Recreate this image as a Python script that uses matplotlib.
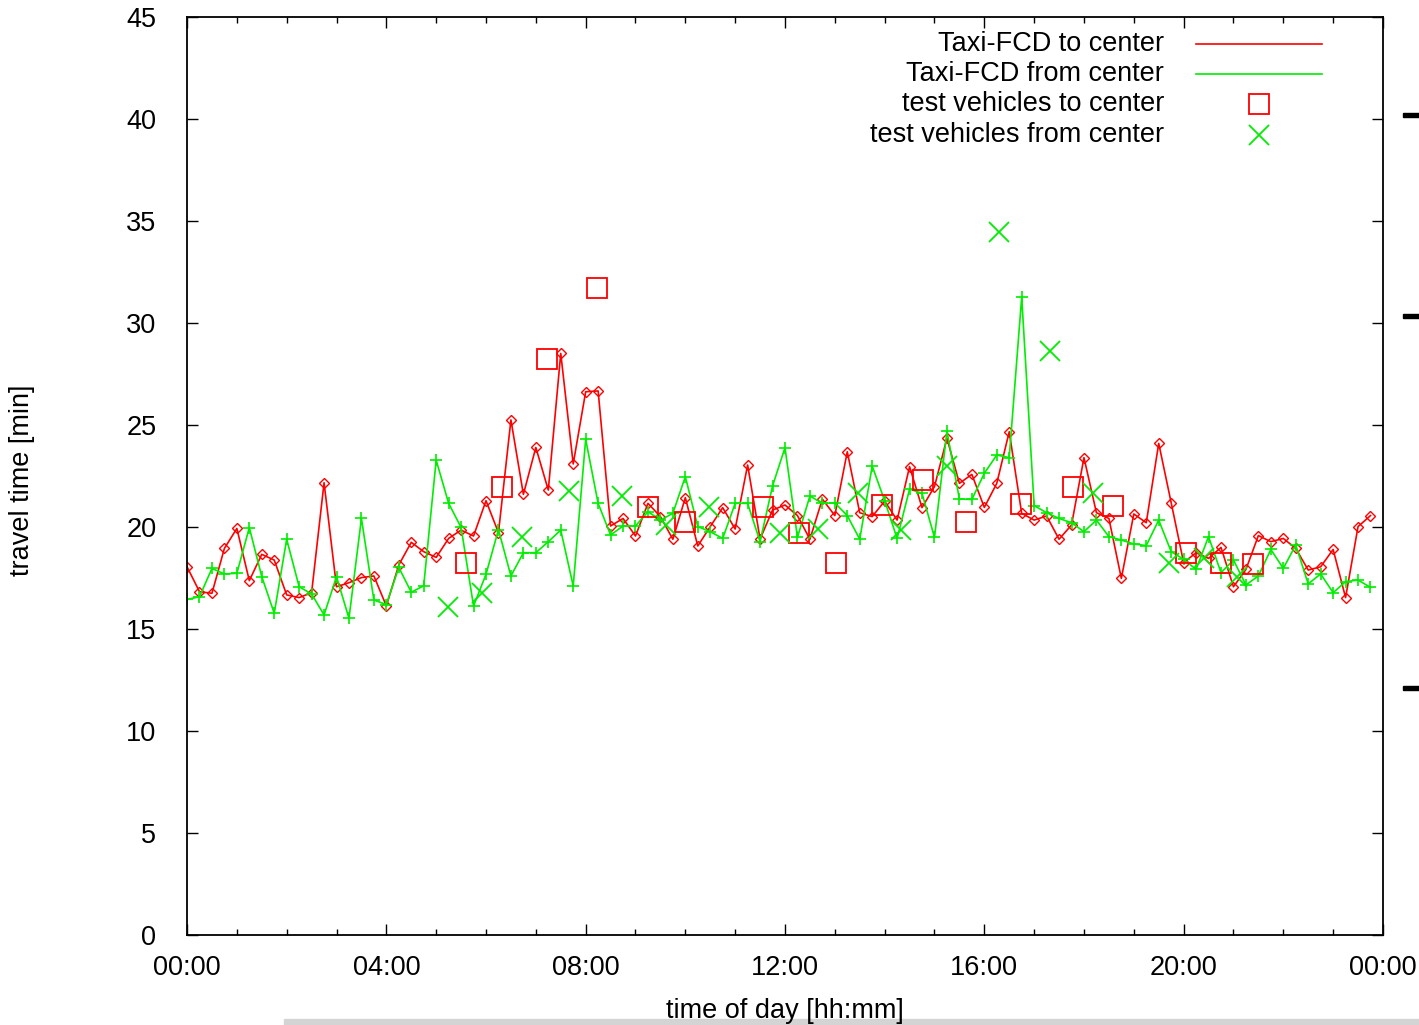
import numpy as np
import matplotlib
matplotlib.use("Agg")
import matplotlib.pyplot as plt
from matplotlib.patches import Rectangle

plt.rcParams['font.family'] = ['Liberation Sans', 'DejaVu Sans']

# 15 minute slots over one day (hours)
slot_hours = np.arange(96) * 0.25

# Taxi-FCD travel times [min]
fcd_to_center = [
    18.05, 16.83, 16.75, 18.95, 19.93, 17.37, 18.66, 18.38, 16.67, 16.54, 16.78, 22.17,
    17.07, 17.27, 17.52, 17.60, 16.13, 18.14, 19.25, 18.79, 18.51, 19.44, 19.85, 19.56,
    21.29, 19.72, 25.25, 21.60, 23.90, 21.81, 28.51, 23.09, 26.63, 26.67, 20.05, 20.42,
    19.56, 21.16, 20.51, 19.40, 21.44, 19.07, 20.02, 20.95, 19.90, 23.04, 19.41, 20.83,
    21.08, 20.56, 19.40, 21.37, 20.56, 23.69, 20.70, 20.51, 21.27, 20.34, 22.96, 20.95,
    21.98, 24.35, 22.14, 22.58, 20.96, 22.14, 24.67, 20.67, 20.34, 20.54, 19.40, 20.10,
    23.40, 20.70, 20.42, 17.48, 20.64, 20.21, 24.10, 21.19, 18.25, 18.74, 18.46, 19.00,
    17.07, 17.92, 19.58, 19.28, 19.44, 18.95, 17.89, 18.05, 18.90, 16.54, 20.02, 20.56,
]
fcd_from_center = [
    16.45, 16.58, 17.97, 17.70, 17.73, 19.97, 17.57, 15.77, 19.40, 17.07, 16.72, 15.69,
    17.57, 15.52, 20.42, 16.42, 16.20, 18.02, 16.80, 17.12, 23.28, 21.16, 19.98, 16.13,
    17.68, 19.87, 17.60, 18.74, 18.74, 19.28, 19.85, 17.11, 24.30, 21.16, 19.61, 20.05,
    20.05, 20.75, 20.34, 20.67, 22.47, 20.02, 19.77, 19.44, 21.16, 21.16, 19.28, 22.01,
    23.89, 19.49, 21.52, 21.16, 21.18, 20.56, 19.40, 22.99, 21.29, 19.44, 21.86, 21.65,
    19.49, 24.70, 21.37, 21.35, 22.63, 23.53, 23.40, 31.27, 21.05, 20.70, 20.42, 20.21,
    19.77, 20.34, 19.53, 19.36, 19.17, 19.09, 20.34, 18.79, 18.42, 17.92, 19.53, 17.76,
    18.38, 17.16, 17.60, 18.90, 17.97, 19.12, 17.21, 17.70, 16.78, 17.32, 17.40, 17.04,
]

# test vehicle runs: (start time [h], travel time [min])
test_to_hours = [5.60, 6.33, 7.23, 8.23, 9.25, 10.00, 11.55, 12.29, 13.02, 13.94,
                 14.76, 15.63, 16.74, 17.77, 18.59, 20.05, 20.74, 21.39]
test_to_minutes = [18.24, 21.96, 28.24, 31.72, 21.00, 20.23, 20.96, 19.69, 18.22, 21.08,
                   22.30, 20.27, 21.13, 21.98, 21.03, 18.75, 18.22, 18.17]
test_from_hours = [5.24, 5.91, 6.72, 7.67, 8.72, 9.61, 10.48, 11.90, 12.67, 13.47,
                   14.32, 15.25, 16.30, 17.32, 18.18, 19.71, 20.40, 21.07]
test_from_minutes = [16.09, 16.75, 19.53, 21.76, 21.53, 20.10, 21.00, 19.72, 19.88, 21.65,
                     19.85, 22.99, 34.46, 28.64, 21.68, 18.22, 18.50, 17.56]

x_ticks = [0, 4, 8, 12, 16, 20, 24]
x_tick_labels = ["00:00", "04:00", "08:00", "12:00", "16:00", "20:00", "00:00"]

red = '#ff0000'
green = '#00ee00'
fs = 19.5

fig = plt.figure(figsize=(14.19, 10.25), dpi=100)

# leftovers of the slide around the plot (kept behind the axes)
for yb in [0.886, 0.690, 0.327]:
    fig.add_artist(Rectangle((0.989, yb), 0.011, 0.004, color='black',
                             transform=fig.transFigure, zorder=-5))
fig.add_artist(Rectangle((0.2, 0.0), 0.8, 0.006, color='#d4d4d4',
                         transform=fig.transFigure, zorder=-5))

ax = fig.add_axes([0.1318, 0.0878, 0.8428, 0.8956])
ax.patch.set_alpha(0)

ax.plot(slot_hours, fcd_to_center, color=red, lw=1.2,
        marker='D', markersize=5.6, markerfacecolor='none',
        markeredgecolor=red, markeredgewidth=1.0)
ax.plot(slot_hours, fcd_from_center, color=green, lw=1.2,
        marker='+', markersize=8, markeredgewidth=1.2)
ax.plot(test_to_hours, test_to_minutes, ls='none', marker='s', markersize=14,
        markerfacecolor='none', markeredgecolor=red, markeredgewidth=1.3)
ax.plot(test_from_hours, test_from_minutes, ls='none', marker='x', markersize=14,
        color=green, markeredgewidth=1.3)

ax.set_xlim(0, 24)
ax.set_ylim(0, 45)
ax.set_xticks(x_ticks)
ax.set_xticklabels(x_tick_labels)
ax.set_xticks(np.arange(0, 25, 1), minor=True)
ax.set_yticks(np.arange(0, 46, 5))
ax.tick_params(which='both', direction='in', top=True, right=True, labelsize=fs)
ax.tick_params(axis='x', which='major', length=8, width=1, pad=14.5)
ax.tick_params(axis='x', which='minor', length=4, width=1)
ax.tick_params(axis='y', which='major', length=8, width=1, pad=22)
for s in ax.spines.values():
    s.set_linewidth(1.3)

ax.set_xlabel("time of day [hh:mm]", fontsize=fs)
ax.set_ylabel("travel time [min]", fontsize=fs)
ax.xaxis.set_label_coords(0.5, -0.069)
ax.yaxis.set_label_coords(-0.127, 0.495)

# gnuplot-style key: text right aligned, sample to the right
key_rows = [0.9706, 0.9379, 0.9052, 0.8714]
key_labels = ["Taxi-FCD to center", "Taxi-FCD from center",
              "test vehicles to center", "test vehicles from center"]
for yk, lab in zip(key_rows, key_labels):
    ax.text(0.817, yk, lab, transform=ax.transAxes, ha='right', va='center', fontsize=fs)
ax.plot([0.8436, 0.949], [key_rows[0]] * 2, transform=ax.transAxes, color=red, lw=1.2)
ax.plot([0.8436, 0.949], [key_rows[1]] * 2, transform=ax.transAxes, color=green, lw=1.2)
ax.plot([0.8963], [key_rows[2]], transform=ax.transAxes, ls='none', marker='s',
        markersize=14, markerfacecolor='none', markeredgecolor=red, markeredgewidth=1.3)
ax.plot([0.8963], [key_rows[3]], transform=ax.transAxes, ls='none', marker='x',
        markersize=14, color=green, markeredgewidth=1.3)

fig.savefig("out.png", dpi=100)
